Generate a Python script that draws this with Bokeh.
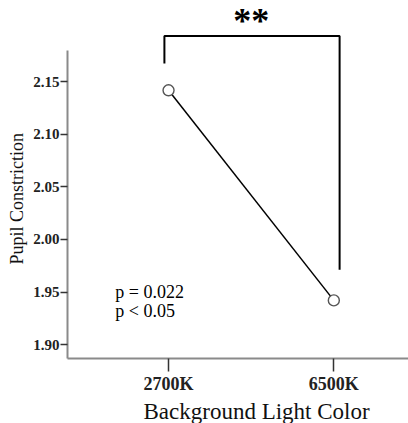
from bokeh.plotting import figure
from bokeh.models import FixedTicker, PrintfTickFormatter, Range1d, Label, ColumnDataSource, Title
from bokeh.embed import file_html
from bokeh.resources import INLINE

# ---- data ----
categories = ["2700K", "6500K"]
pupil_constriction = [2.142, 1.942]
y_ticks = [1.90, 1.95, 2.00, 2.05, 2.10, 2.15]
p_value_text = ["p = 0.022", "p < 0.05"]
significance = "**"
x_title = "Background Light Color"
y_title = "Pupil Constriction"

SERIF = "Liberation Serif"

xs = list(range(len(categories)))
src = ColumnDataSource(data=dict(x=xs, y=pupil_constriction))

Y0, Y1 = 1.8867, 2.2275
p = figure(width=408, height=423, output_backend="svg", toolbar_location=None,
           x_range=Range1d(-0.6113, 1.4518), y_range=Range1d(Y0, Y1),
           min_border_left=66, min_border_right=0, min_border_top=0, min_border_bottom=64)
p.outline_line_color = None
p.xgrid.visible = False
p.ygrid.visible = False
p.background_fill_color = "white"
p.border_fill_color = "white"

# y axis
ya = p.yaxis[0]
ya.ticker = FixedTicker(ticks=y_ticks)
ya.formatter = PrintfTickFormatter(format="%.2f")
ya.bounds = (Y0, 2.180)
ya.axis_line_color = "#8a8a8a"
ya.axis_line_width = 2
ya.major_tick_line_color = "#333333"
ya.major_tick_line_width = 1.5
ya.major_tick_out = 7
ya.major_tick_in = 0
ya.minor_tick_line_color = None
ya.major_label_standoff = 1
ya.major_label_text_font = SERIF
ya.major_label_text_font_style = "bold"
ya.major_label_text_font_size = "15px"
ya.major_label_text_color = "#222222"

# x axis
xa = p.xaxis[0]
xa.ticker = FixedTicker(ticks=xs)
xa.major_label_overrides = {i: c for i, c in enumerate(categories)}
xa.axis_line_color = "#8a8a8a"
xa.axis_line_width = 2
xa.major_tick_line_color = "#333333"
xa.major_tick_line_width = 1.5
xa.major_tick_out = 13
xa.major_tick_in = 0
xa.minor_tick_line_color = None
xa.major_label_standoff = 2
xa.major_label_text_font = SERIF
xa.major_label_text_font_style = "bold"
xa.major_label_text_font_size = "18px"
xa.major_label_text_color = "#222222"

# axis titles as side titles (allow offset along the axis)
p.add_layout(Title(text=x_title, align="left", offset=76, standoff=0,
                   text_font=SERIF, text_font_style="normal", text_font_size="23px",
                   text_color="#111111"), "below")
p.add_layout(Title(text=y_title, align="left", offset=94, standoff=8,
                   text_font=SERIF, text_font_style="normal", text_font_size="18px",
                   text_color="#111111"), "left")

# data line + points
p.line("x", "y", source=src, line_color="black", line_width=1.5)
p.scatter("x", "y", source=src, marker="circle", size=11, fill_color="white",
          line_color="#555555", line_width=1.4)

# significance bracket
bx0 = xs[0] - 0.025
bx1 = xs[1] + 0.035
p.line([bx0, bx0, bx1, bx1], [2.1675, 2.1936, 2.1936, 1.9713],
       line_color="black", line_width=2)
p.add_layout(Label(x=(xs[0] + xs[1]) / 2, y=Y1, text=significance,
                   text_font=SERIF, text_font_style="bold", text_font_size="36px",
                   text_align="center", text_baseline="top", text_color="black"))

# p-value text
p.add_layout(Label(x=-0.322, y=1.9498, text=p_value_text[0], text_font=SERIF,
                   text_font_size="18px", text_align="left", text_baseline="alphabetic",
                   text_color="black"))
p.add_layout(Label(x=-0.322, y=1.932, text=p_value_text[1], text_font=SERIF,
                   text_font_size="18px", text_align="left", text_baseline="alphabetic",
                   text_color="black"))

open("out.html", "w").write(file_html(p, INLINE))
